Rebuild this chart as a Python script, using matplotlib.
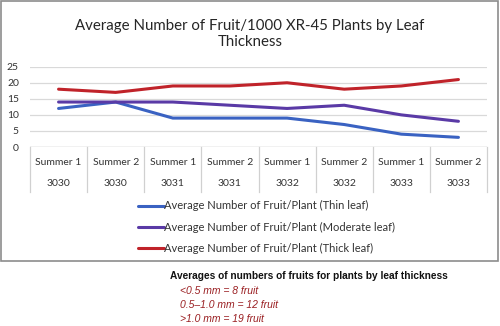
import matplotlib
matplotlib.use("Agg")
import matplotlib.pyplot as plt
from matplotlib.patches import Rectangle
import matplotlib.transforms as mtransforms

plt.rcParams['font.family'] = ['Lato', 'DejaVu Sans']

# data
seasons = ["Summer 1", "Summer 2"] * 4
years = ["3030", "3030", "3031", "3031", "3032", "3032", "3033", "3033"]
thin = [12, 14, 9, 9, 9, 7, 4, 3]
moderate = [14, 14, 14, 13, 12, 13, 10, 8]
thick = [18, 17, 19, 19, 20, 18, 19, 21]
series_names = ["Average Number of Fruit/Plant (Thin leaf)",
                "Average Number of Fruit/Plant (Moderate leaf)",
                "Average Number of Fruit/Plant (Thick leaf)"]
notes = ["<0.5 mm = 8 fruit", "0.5\u20131.0 mm = 12 fruit", ">1.0 mm = 19 fruit"]

W, H = 500, 326
fig = plt.figure(figsize=(W / 100, H / 100), dpi=100)

def fx(px):
    return px / W

def fy(py):
    return 1 - py / H

# outer chart frame
fig.patches.append(Rectangle((fx(1), fy(261)), fx(498) - fx(1), fy(1) - fy(261),
                             transform=fig.transFigure, fill=False,
                             edgecolor="#8c8c8c", linewidth=1.2))

fig.text(0.5, fy(34), "Average Number of Fruit/1000 XR-45 Plants by Leaf\nThickness",
         ha="center", va="center", fontsize=10.8, color="#262626", linespacing=1.2)

ax = fig.add_axes([fx(30), fy(147), fx(487) - fx(30), fy(66.7) - fy(147)])
x = list(range(len(thin)))
colors = ["#3a62c2", "#5a3aa6", "#c0232a"]
for vals, c, name in zip([thin, moderate, thick], colors, series_names):
    ax.plot(x, vals, color=c, linewidth=2.2, label=name, solid_capstyle="round")

ax.set_xlim(-0.5, len(x) - 0.5)
ax.set_ylim(0, 25)
ax.set_yticks(range(0, 26, 5))
ax.tick_params(axis="y", length=0, labelsize=7.5, colors="#333333", pad=8)
ax.set_xticks([])
for s in ax.spines.values():
    s.set_visible(False)
ax.grid(axis="y", color="#d9d9d9", linewidth=0.9)
ax.set_axisbelow(True)
ax.axhline(0, color="#d0d0d0", linewidth=1)

# two-level category axis
trans = mtransforms.blended_transform_factory(ax.transData, ax.transAxes)
ax_h = 147 - 66.7
for i in range(len(x) + 1):
    ax.plot([i - 0.5, i - 0.5], [0, -45 / ax_h], transform=trans, color="#d0d0d0",
            linewidth=0.9, clip_on=False)
for i in x:
    ax.text(i, -15 / ax_h, seasons[i], transform=trans, ha="center", va="center",
            fontsize=7.5, color="#333333")
    ax.text(i, -36 / ax_h, years[i], transform=trans, ha="center", va="center",
            fontsize=7.5, color="#333333")

fig.legend(loc="upper left", bbox_to_anchor=(fx(134), fy(196)), frameon=False,
           fontsize=8.0, handlelength=2.3, handletextpad=0.0, labelspacing=0.9,
           borderaxespad=0, labelcolor="#333333")

fig.text(fx(170), fy(276), "Averages of numbers of fruits for plants by leaf thickness",
         fontsize=7.3, fontweight="bold", color="#111111", va="center",
         family=["Liberation Sans", "DejaVu Sans"])
for k, t in enumerate(notes):
    fig.text(fx(180), fy(291.5 + k * 13.5), t, fontsize=7.5, style="italic",
             color="#9a1f22", va="center", family=["Liberation Sans", "DejaVu Sans"])

fig.savefig("out.png", dpi=100)
